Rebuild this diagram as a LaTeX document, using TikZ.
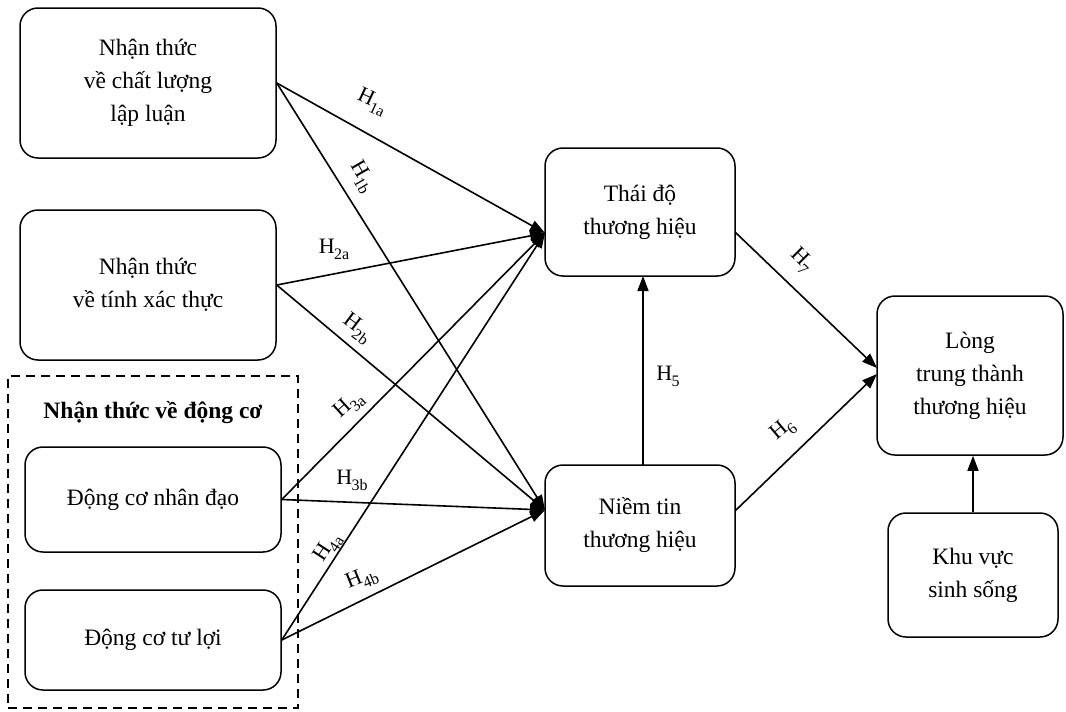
\documentclass[tikz,border=0pt]{standalone}
\usepackage{fontspec}
\setmainfont{Liberation Serif}
\usetikzlibrary{arrows.meta}
\newcommand\hyp[1]{H\kern-0.5pt\raisebox{-0.28em}{\fontsize{16}{16}\selectfont #1}}
\begin{document}
\begin{tikzpicture}[x=1pt,y=-1pt,
  box/.style={draw, line width=1.5pt, rounded corners=18pt, align=center, inner sep=0pt,
    font=\fontsize{23.5}{33}\selectfont},
  conn/.style={line width=1.6pt, -{Triangle[length=15pt,width=11pt]}},
  hlab/.style={font=\fontsize{22}{22}\selectfont, inner sep=1pt}]
\useasboundingbox (0,0) rectangle (1066,712);
% boxes
\node[box, minimum width=256pt, minimum height=150pt] (b1) at (148,83) {Nhận thức\\về chất lượng\\lập luận};
\node[box, minimum width=256pt, minimum height=150pt] (b2) at (148,285) {Nhận thức\\về tính xác thực};
\node[draw, dashed, dash pattern=on 9pt off 6pt, line width=1.3pt, minimum width=290pt, minimum height=332pt, inner sep=0pt] (grp) at (153,542) {};
\node[font=\fontsize{23.5}{33}\selectfont\bfseries] (grpt) at (153,413) {Nhận thức về động cơ};
\node[box, minimum width=256pt, minimum height=105pt] (b3) at (153,499.5) {Động cơ nhân đạo};
\node[box, minimum width=256pt, minimum height=100pt] (b4) at (153,640) {Động cơ tư lợi};
\node[box, minimum width=190pt, minimum height=128pt] (td) at (640,212) {Thái độ\\thương hiệu};
\node[box, minimum width=190pt, minimum height=121pt] (nt) at (640,525.5) {Niềm tin\\thương hiệu};
\node[box, minimum width=186pt, minimum height=159pt] (lg) at (970,375.5) {Lòng\\trung thành\\thương hiệu};
\node[box, minimum width=170pt, minimum height=124pt] (kv) at (973,575) {Khu vực\\sinh sống};
% connection points
\coordinate (tdin) at (545,233);
\coordinate (ntin) at (545,510);
\coordinate (tdout) at (735,232);
\coordinate (ntout) at (735,511);
\coordinate (lgin1) at (877,368);
\coordinate (lgin2) at (877,374);
\coordinate (ntup) at (643,465);
\coordinate (tddown) at (643,276);
% arrows
\draw[conn] (b1.east) -- (tdin);
\draw[conn] (b1.east) -- (ntin);
\draw[conn] (b2.east) -- (tdin);
\draw[conn] (b2.east) -- (ntin);
\draw[conn] (b3.east) -- (tdin);
\draw[conn] (b3.east) -- (ntin);
\draw[conn] (b4.east) -- (tdin);
\draw[conn] (b4.east) -- (ntin);
\draw[conn] (ntup) -- (tddown);
\draw[conn] (tdout) -- (lgin1);
\draw[conn] (ntout) -- (lgin2);
\draw[conn] (kv.north) -- (kv.north |- lg.south);
% labels
\node[hlab, rotate=-25] (h1a) at (372,102) {\hyp{1a}};
\node[hlab, rotate=-60] (h1b) at (362,177) {\hyp{1b}};
\node[hlab] (h2a) at (334,249) {\hyp{2a}};
\node[hlab, rotate=-37] (h2b) at (357,329) {\hyp{2b}};
\node[hlab, rotate=42] (h3a) at (349,405) {\hyp{3a}};
\node[hlab] (h3b) at (352,480) {\hyp{3b}};
\node[hlab, rotate=57] (h4a) at (328,548) {\hyp{4a}};
\node[hlab, rotate=22] (h4b) at (362,579) {\hyp{4b}};
\node[hlab] (h5) at (668,376) {\hyp{5}};
\node[hlab, rotate=40] (h6) at (783,430) {\hyp{6}};
\node[hlab, rotate=-45] (h7) at (801,261) {\hyp{7}};
\end{tikzpicture}
\end{document}
